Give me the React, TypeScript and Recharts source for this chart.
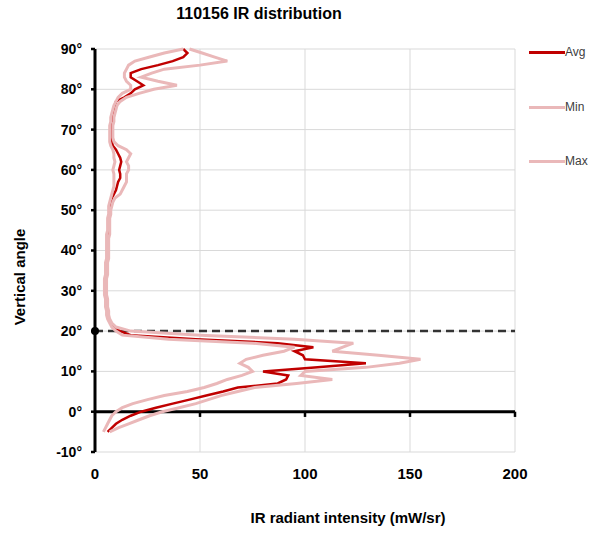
import {
  LineChart,
  Line,
  XAxis,
  YAxis,
  CartesianGrid,
  ReferenceLine,
  ReferenceDot,
} from 'recharts';

/* ------------------------------------------------------------------ */
/*  Data                                                               */
/* ------------------------------------------------------------------ */

const ANGLES: number[] = [
  -5, -4, -3, -2, -1, 0, 1, 2, 3, 4, 5, 6, 7, 8, 9, 10, 11, 12, 13, 14, 15, 16, 17, 18, 19,
  20, 21, 22, 23, 24, 25, 26, 27, 28, 29, 30, 31, 32, 33, 34, 35, 36, 37, 38, 39, 40, 41, 42, 43, 44,
  45, 46, 47, 48, 49, 50, 51, 52, 53, 54, 55, 56, 57, 58, 59, 60, 61, 62, 63, 64, 65, 66, 67, 68, 69,
  70, 71, 72, 73, 74, 75, 76, 77, 78, 79, 80, 81, 82, 83, 84, 85, 86, 87, 88, 89, 90,
];

const AVG: number[] = [
  6, 8, 10, 13, 17, 22, 29, 37, 45, 53, 61, 68, 87, 91, 92, 80, 106, 129, 100, 99, 95, 104, 87, 48, 17,
  12, 9, 7.5, 6.5, 6, 6, 5.5, 5.5, 5.5, 5, 5, 5, 5, 5, 5.5, 5.5, 5.5, 5.5, 6, 6, 6, 6, 6, 6, 6,
  6.5, 6.5, 6.5, 6.5, 7, 7, 7, 7.5, 8, 9, 10, 10.5, 11, 12, 12, 11.5, 12, 12.5, 12, 11, 10, 8.5, 8, 7.5, 7.5,
  7.5, 7.5, 8, 8, 8.5, 9, 9.5, 10, 14, 17, 19, 23, 20, 17, 17, 22, 30, 37, 42, 44, 42,
];

const MIN: number[] = [
  4, 5, 6, 7, 8, 10, 13, 18, 25, 33, 44, 52, 58, 63, 70, 75, 73, 69, 72, 80, 90, 95, 75, 35, 13,
  10, 8, 7, 6, 5.5, 5.5, 5, 5, 5, 4.5, 4.5, 4.5, 4.5, 4.5, 5, 5, 5, 5, 5.5, 5.5, 5.5, 5.5, 5.5, 5.5, 5.5,
  6, 6, 6, 6, 6.5, 6.5, 6.5, 7, 7.5, 8, 8.5, 9, 9, 9, 9, 8.5, 9, 9.5, 9, 9, 8.5, 7.5, 7, 7, 7,
  7, 7, 7.5, 7.5, 8, 8.5, 9, 10, 11, 13, 17, 17, 15, 14, 14, 15, 16, 19, 26, 33, 42,
];

const MAX: number[] = [
  7, 11, 16, 21, 26, 32, 40, 48, 54, 60, 68, 76, 96, 113, 98, 100, 129, 145, 155, 135, 113, 118, 123, 95, 50,
  17, 10, 8, 7, 6.5, 6.5, 6, 6, 6, 5.5, 5.5, 5.5, 5.5, 5.5, 6, 6, 6, 6, 6.5, 6.5, 6.5, 6.5, 6.5, 6.5, 7,
  7, 7, 7, 7, 7.5, 7.5, 8, 8.5, 9.5, 12, 13, 14, 15, 15, 15, 16, 16, 15, 16, 17, 15, 11, 9, 8.5, 8.5,
  8.5, 8.5, 9, 9, 9.5, 10, 10.5, 12, 15, 21, 28, 39, 30, 22, 27, 33, 50, 63, 57, 51, 45,
];

const X_TICKS: number[] = [0, 50, 100, 150, 200];
const Y_TICKS: number[] = [-10, 0, 10, 20, 30, 40, 50, 60, 70, 80, 90];

const DATA = ANGLES.map((angle, i) => ({
  angle,
  avg: AVG[i],
  min: MIN[i],
  max: MAX[i],
}));

/* ------------------------------------------------------------------ */
/*  Styles                                                             */
/* ------------------------------------------------------------------ */

const FONT = '"Liberation Sans", Arial, sans-serif';
const RED = '#C00000';
const PINK = '#EAB8B9';

const LEGEND = [
  { label: 'Avg', color: RED, width: 3, top: 52 },
  { label: 'Min', color: PINK, width: 3, top: 107 },
  { label: 'Max', color: PINK, width: 3, top: 161 },
];

/* ------------------------------------------------------------------ */
/*  Component                                                          */
/* ------------------------------------------------------------------ */

export default function App() {
  return (
    <div
      style={{
        position: 'absolute',
        left: 0,
        top: 0,
        width: 593,
        height: 533,
        fontFamily: FONT,
        background: '#fff',
      }}
    >
      <div
        style={{
          position: 'absolute',
          left: 0,
          width: 518,
          top: 5,
          textAlign: 'center',
          fontSize: 16,
          fontWeight: 'bold',
          color: '#000',
        }}
      >
        110156 IR distribution
      </div>

      <LineChart
        width={593}
        height={533}
        data={DATA}
        layout="vertical"
        margin={{ top: 49, right: 78, bottom: 51, left: 0 }}
      >
        <CartesianGrid stroke="#D9D9D9" strokeWidth={1} />
        <XAxis
          type="number"
          domain={[0, 200]}
          ticks={X_TICKS}
          height={30}
          axisLine={false}
          tickLine={false}
          tickMargin={10}
          tick={{ fill: '#000', fontSize: 15, fontWeight: 'bold', fontFamily: FONT }}
        />
        <YAxis
          type="number"
          dataKey="angle"
          domain={[-10, 90]}
          ticks={Y_TICKS}
          reversed
          width={95}
          axisLine={{ stroke: '#000', strokeWidth: 3 }}
          tickLine={{ stroke: '#000', strokeWidth: 2.5 }}
          tickSize={4}
          tickMargin={9}
          tickFormatter={(v: number) => `${v}°`}
          tick={{ fill: '#000', fontSize: 14, fontWeight: 'bold', fontFamily: FONT }}
        />

        <ReferenceLine y={0} stroke="#000" strokeWidth={3} />
        {X_TICKS.slice(1).map((t) => (
          <ReferenceLine
            key={t}
            segment={[{ x: t, y: 0 }, { x: t, y: -1.3 }]}
            stroke="#000"
            strokeWidth={2.5}
          />
        ))}
        <ReferenceLine y={20} stroke="#333" strokeWidth={2.5} strokeDasharray="8 5" />

        <Line
          type="linear"
          dataKey="avg"
          stroke={RED}
          strokeWidth={2.5}
          dot={false}
          isAnimationActive={false}
        />
        <Line
          type="linear"
          dataKey="min"
          stroke={PINK}
          strokeWidth={3}
          dot={false}
          isAnimationActive={false}
        />
        <Line
          type="linear"
          dataKey="max"
          stroke={PINK}
          strokeWidth={3}
          dot={false}
          isAnimationActive={false}
        />

        <ReferenceDot x={0} y={20} r={4} fill="#000" stroke="none" />
      </LineChart>

      <div
        style={{
          position: 'absolute',
          left: 198,
          width: 300,
          top: 509,
          textAlign: 'center',
          fontSize: 15,
          fontWeight: 'bold',
          color: '#000',
        }}
      >
        IR radiant intensity (mW/sr)
      </div>

      <div
        style={{
          position: 'absolute',
          left: 19,
          top: 277,
          transform: 'translate(-50%, -50%) rotate(-90deg)',
          whiteSpace: 'nowrap',
          fontSize: 15,
          fontWeight: 'bold',
          color: '#000',
        }}
      >
        Vertical angle
      </div>

      {LEGEND.map((item) => (
        <div
          key={item.label}
          style={{
            position: 'absolute',
            left: 529,
            top: item.top - 8,
            width: 62,
            height: 16,
            display: 'flex',
            alignItems: 'center',
            whiteSpace: 'nowrap',
          }}
        >
          <span
            style={{ display: 'inline-block', flex: 'none', width: 36, height: item.width, background: item.color }}
          />
          <span style={{ fontSize: 12, color: '#404040', marginLeft: 0 }}>{item.label}</span>
        </div>
      ))}
    </div>
  );
}
